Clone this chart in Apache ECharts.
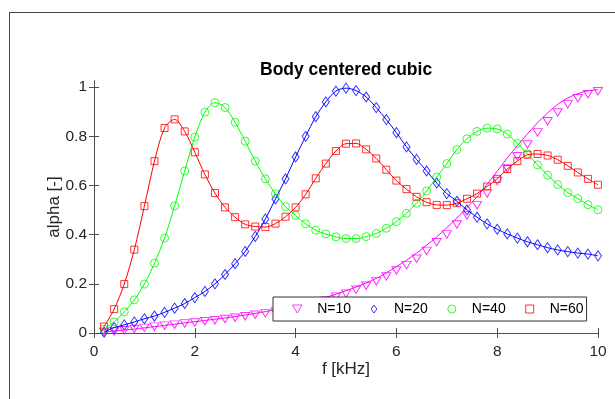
<!DOCTYPE html>
<html>
<head>
<meta charset="utf-8">
<script src="https://cdn.jsdelivr.net/npm/echarts@6/dist/echarts.min.js"></script>
<style>
  html, body { margin: 0; padding: 0; background: #fff; }
  #chart { width: 615px; height: 399px; }
</style>
</head>
<body>
<div id="chart"></div>
<script>
// frequency points [kHz]
const freq = [0.2, 0.4, 0.6, 0.8, 1.0, 1.2, 1.4, 1.6, 1.8, 2.0,
  2.2, 2.4, 2.6, 2.8, 3.0, 3.2, 3.4, 3.6, 3.8, 4.0,
  4.2, 4.4, 4.6, 4.8, 5.0, 5.2, 5.4, 5.6, 5.8, 6.0,
  6.2, 6.4, 6.6, 6.8, 7.0, 7.2, 7.4, 7.6, 7.8, 8.0,
  8.2, 8.4, 8.6, 8.8, 9.0, 9.2, 9.4, 9.6, 9.8, 10.0];

// measured points (markers)
const n10 = [0.004, 0.006, 0.011, 0.016, 0.021, 0.026, 0.030, 0.034, 0.039, 0.043,
  0.048, 0.052, 0.057, 0.062, 0.068, 0.074, 0.080, 0.087, 0.094, 0.102,
  0.110, 0.119, 0.132, 0.148, 0.160, 0.176, 0.192, 0.211, 0.230, 0.254,
  0.276, 0.302, 0.334, 0.369, 0.401, 0.441, 0.478, 0.520, 0.568, 0.618,
  0.669, 0.719, 0.767, 0.816, 0.861, 0.897, 0.931, 0.955, 0.971, 0.983];
const n20 = [0.003, 0.022, 0.033, 0.045, 0.058, 0.069, 0.084, 0.101, 0.120, 0.144,
  0.169, 0.200, 0.238, 0.282, 0.332, 0.393, 0.464, 0.545, 0.627, 0.716,
  0.800, 0.880, 0.940, 0.984, 0.996, 0.986, 0.960, 0.917, 0.868, 0.815,
  0.757, 0.706, 0.659, 0.610, 0.567, 0.536, 0.501, 0.471, 0.444, 0.422,
  0.403, 0.386, 0.371, 0.359, 0.347, 0.338, 0.331, 0.325, 0.321, 0.314];
const n40 = [0.015, 0.045, 0.086, 0.135, 0.199, 0.284, 0.386, 0.517, 0.659, 0.797,
  0.898, 0.937, 0.917, 0.857, 0.780, 0.699, 0.627, 0.566, 0.514, 0.478,
  0.444, 0.418, 0.403, 0.391, 0.384, 0.384, 0.392, 0.405, 0.426, 0.453,
  0.487, 0.528, 0.578, 0.634, 0.689, 0.746, 0.790, 0.820, 0.833, 0.830,
  0.809, 0.771, 0.729, 0.684, 0.642, 0.604, 0.571, 0.547, 0.522, 0.501];
const n60 = [0.026, 0.097, 0.199, 0.339, 0.516, 0.699, 0.834, 0.869, 0.820, 0.735,
  0.645, 0.569, 0.511, 0.471, 0.442, 0.433, 0.431, 0.445, 0.473, 0.511,
  0.564, 0.629, 0.689, 0.740, 0.770, 0.771, 0.747, 0.710, 0.664, 0.620,
  0.585, 0.554, 0.532, 0.521, 0.520, 0.528, 0.546, 0.567, 0.596, 0.627,
  0.667, 0.699, 0.725, 0.728, 0.722, 0.705, 0.680, 0.653, 0.627, 0.603];

// model curve for N=10 (drawn as line, sits above the markers at high f)
const n10Fit = [0.004, 0.008, 0.012, 0.016, 0.021, 0.026, 0.031, 0.036, 0.041, 0.046,
  0.051, 0.056, 0.061, 0.067, 0.073, 0.080, 0.087, 0.095, 0.103, 0.112,
  0.122, 0.133, 0.145, 0.158, 0.172, 0.187, 0.204, 0.222, 0.245, 0.270,
  0.296, 0.325, 0.357, 0.391, 0.428, 0.468, 0.510, 0.554, 0.605, 0.658,
  0.712, 0.762, 0.810, 0.855, 0.895, 0.930, 0.956, 0.974, 0.985, 0.990];

const legendNames = ['N=10', 'N=20', 'N=40', 'N=60'];
const xTicks = [0, 2, 4, 6, 8, 10];
const yTicks = [0, 0.2, 0.4, 0.6, 0.8, 1];

const pairs = (ys) => freq.map((f, i) => [f, ys[i]]);

const triDown = 'path://M0,0L10,0L5,8.4Z';
const diamond = 'path://M5,0L10,7L5,14L0,7Z';
const square = 'path://M0,0L10,0L10,10L0,10Z';

function fitLine(name, ys, color) {
  return {
    name: name,
    type: 'line',
    data: pairs(ys),
    smooth: 0.3,
    showSymbol: false,
    silent: true,
    lineStyle: { color: color, width: 1 },
    itemStyle: { color: color },
  };
}

function markers(name, ys, color, symbol, size) {
  return {
    name: name,
    type: 'scatter',
    data: pairs(ys),
    symbol: symbol,
    symbolSize: size,
    itemStyle: { color: 'rgba(0,0,0,0)', borderColor: color, borderWidth: 1 },
  };
}

const axisColor = '#4d4d4d';
const textColor = '#262626';
const font = 'Liberation Sans, Arial, Helvetica, sans-serif';

const chart = echarts.init(document.getElementById('chart'), null, { renderer: 'canvas' });
chart.setOption({
  animation: false,
  backgroundColor: '#fff',
  title: {
    text: 'Body centered cubic',
    left: 260,
    top: 61,
    padding: 0,
    textStyle: { fontFamily: font, fontSize: 17.5, fontWeight: 'bold', color: '#000' },
  },
  graphic: [
    { type: 'line', shape: { x1: 9, y1: 12.5, x2: 615, y2: 12.5 }, style: { stroke: '#444', lineWidth: 1 } },
    { type: 'line', shape: { x1: 9.5, y1: 12, x2: 9.5, y2: 399 }, style: { stroke: '#444', lineWidth: 1 } },
  ],
  grid: { left: 94, right: 17, top: 81, bottom: 66 },
  legend: {
    data: legendNames,
    left: 273,
    top: 297,
    orient: 'horizontal',
    itemWidth: 30,
    itemHeight: 8,
    itemGap: 19.5,
    padding: [5, 3, 5, 19],
    backgroundColor: '#fff',
    borderColor: '#333',
    borderWidth: 1,
    borderRadius: 0,
    itemStyle: { borderWidth: 1 },
    textStyle: { fontFamily: font, fontSize: 14, color: '#000' },
  },
  xAxis: [
    {
      type: 'value', min: 0, max: 10, interval: 2,
      name: 'f [kHz]', nameLocation: 'middle', nameGap: 28, nameMoveOverlap: false,
      nameTextStyle: { fontFamily: font, fontSize: 17, color: textColor },
      axisLine: { lineStyle: { color: axisColor, width: 1 } },
      axisTick: { inside: true, length: 5, lineStyle: { color: axisColor } },
      axisLabel: {
        margin: 11, fontFamily: font, fontSize: 15.5, color: textColor,
        formatter: (v) => (xTicks.includes(v) ? String(v) : ''),
      },
      splitLine: { show: false },
    },
    {
      type: 'value', min: 0, max: 10, interval: 2, position: 'top',
      axisLine: { lineStyle: { color: axisColor, width: 1 } },
      axisTick: { inside: true, length: 5, lineStyle: { color: axisColor } },
      axisLabel: { show: false },
      splitLine: { show: false },
    },
  ],
  yAxis: [
    {
      type: 'value', min: 0, max: 1.025, interval: 0.2,
      name: 'alpha [-]', nameLocation: 'middle', nameGap: 31, nameMoveOverlap: false,
      nameTextStyle: { fontFamily: font, fontSize: 17, color: textColor },
      axisLine: { show: true, lineStyle: { color: axisColor, width: 1 } },
      axisTick: { show: true, inside: true, length: 5, customValues: yTicks, lineStyle: { color: axisColor } },
      axisLabel: {
        margin: 7, fontFamily: font, fontSize: 15.5, color: textColor,
        customValues: yTicks,
        formatter: (v) => String(Math.round(v * 10) / 10),
      },
      splitLine: { show: false },
    },
    {
      type: 'value', min: 0, max: 1.025, interval: 0.2, position: 'right',
      axisLine: { show: true, lineStyle: { color: axisColor, width: 1 } },
      axisTick: { show: true, inside: true, length: 5, customValues: yTicks, lineStyle: { color: axisColor } },
      axisLabel: { show: false },
      splitLine: { show: false },
    },
  ],
  series: [
    fitLine('fit10', n10Fit, '#ff00ff'),
    markers('N=10', n10, '#ff00ff', triDown, [9, 7.5]),
    fitLine('fit20', n20, '#0000ff'),
    markers('N=20', n20, '#0000ff', diamond, [7, 10]),
    fitLine('fit40', n40, '#00ff00'),
    markers('N=40', n40, '#00ff00', 'circle', 8),
    fitLine('fit60', n60, '#ff0000'),
    markers('N=60', n60, '#ff0000', square, 7),
  ],
});
</script>
</body>
</html>
